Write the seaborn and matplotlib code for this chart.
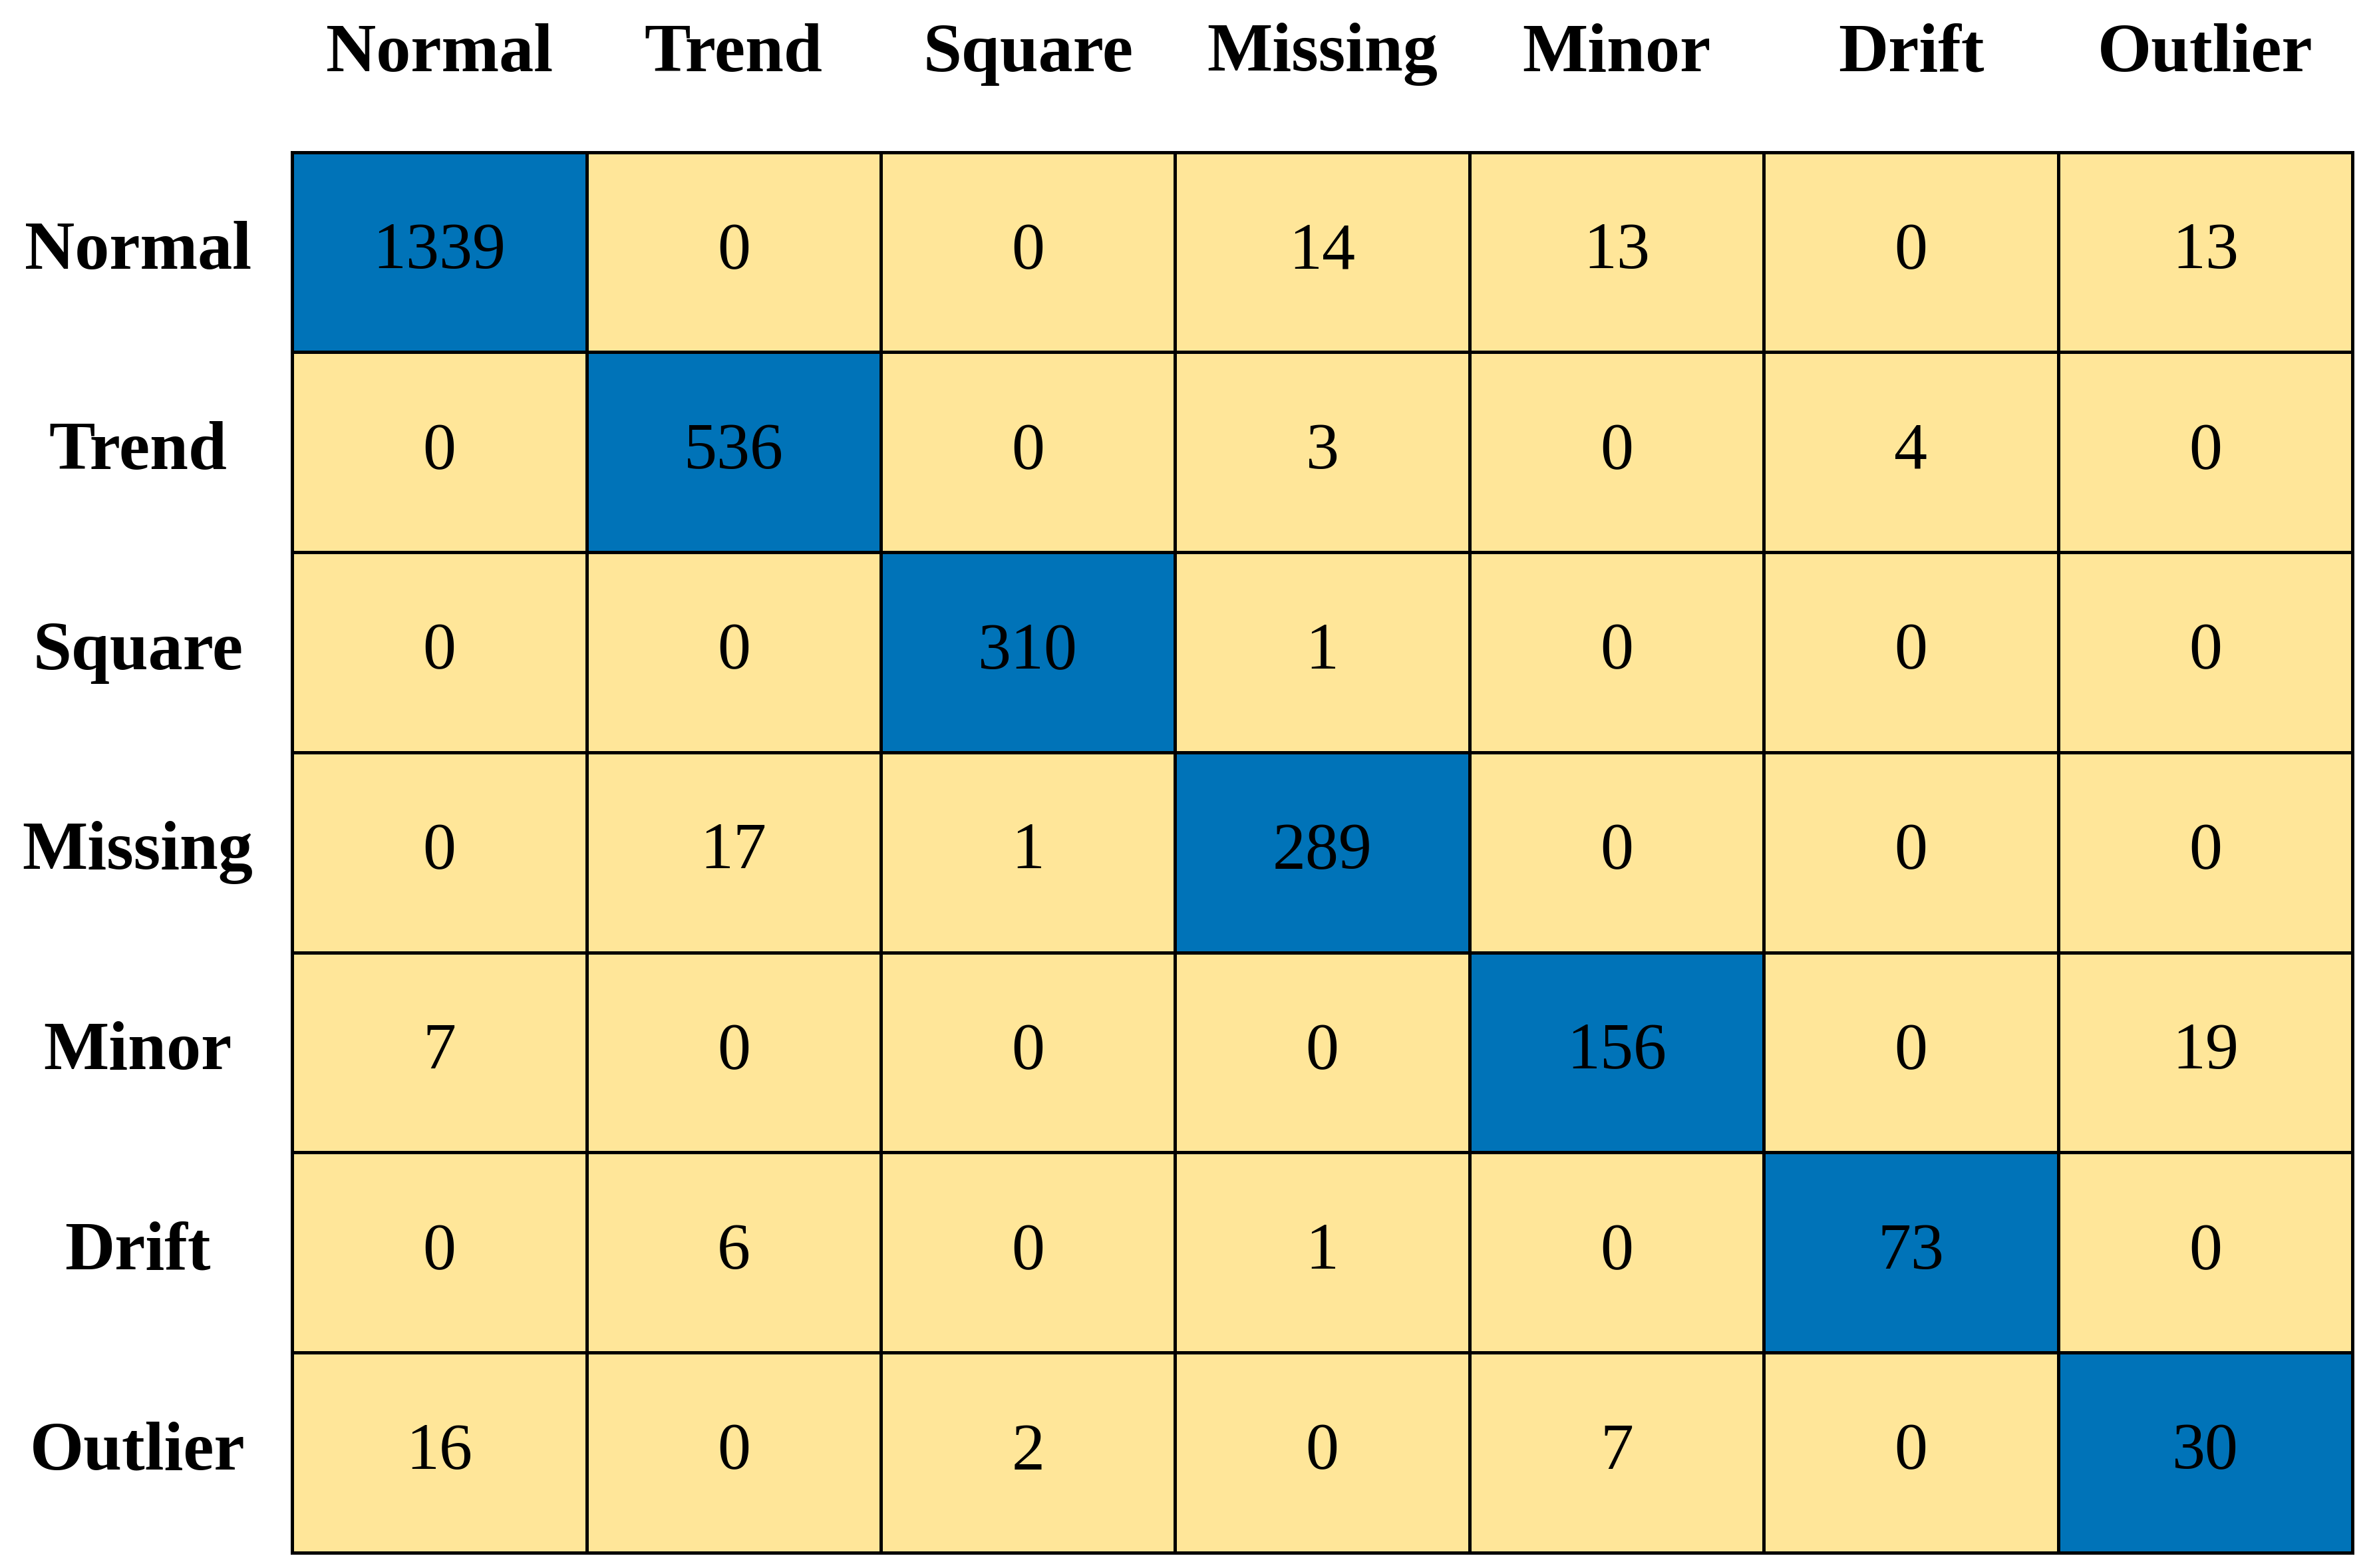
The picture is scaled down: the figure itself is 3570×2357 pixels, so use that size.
import numpy as np
import pandas as pd
import matplotlib.pyplot as plt
import seaborn as sns
from matplotlib.colors import ListedColormap

classes = ["Normal", "Trend", "Square", "Missing", "Minor", "Drift", "Outlier"]

row_normal = [1339, 0, 0, 14, 13, 0, 13]
row_trend = [0, 536, 0, 3, 0, 4, 0]
row_square = [0, 0, 310, 1, 0, 0, 0]
row_missing = [0, 17, 1, 289, 0, 0, 0]
row_minor = [7, 0, 0, 0, 156, 0, 19]
row_drift = [0, 6, 0, 1, 0, 73, 0]
row_outlier = [16, 0, 2, 0, 7, 0, 30]

counts = pd.DataFrame(
    [row_normal, row_trend, row_square, row_missing, row_minor, row_drift, row_outlier],
    index=classes, columns=classes,
)

# diagonal cells blue, the rest yellow
is_diag = pd.DataFrame(np.eye(len(classes)), index=classes, columns=classes)
cmap = ListedColormap(["#FFE699", "#0073B8"])

sns.set_theme(style="white")
plt.rcParams["font.family"] = ["Liberation Serif", "DejaVu Serif"]

fig = plt.figure(figsize=(35.7, 23.57), dpi=100)
ax = fig.add_axes([0.123, 0.0098, 0.8675, 0.8932])

sns.heatmap(is_diag, annot=counts, fmt="d", cmap=cmap, vmin=0, vmax=1,
            cbar=False, linewidths=3.6, linecolor="black", ax=ax,
            annot_kws={"fontsize": 72, "color": "black"})

for s in ax.spines.values():
    s.set_visible(True)
    s.set_linewidth(3.6)
    s.set_color("black")

ax.xaxis.tick_top()
ax.set_xticklabels(classes, fontsize=75, fontweight="bold", rotation=0, color="black")
ax.set_yticklabels(classes, fontsize=75, fontweight="bold", rotation=0,
                   ha="center", va="center", color="black")
ax.tick_params(axis="x", length=0, pad=72)
ax.tick_params(axis="y", length=0, pad=167)
ax.set_xlabel("")
ax.set_ylabel("")

fig.savefig("out.png", dpi=100, facecolor="white")
plt.close()
